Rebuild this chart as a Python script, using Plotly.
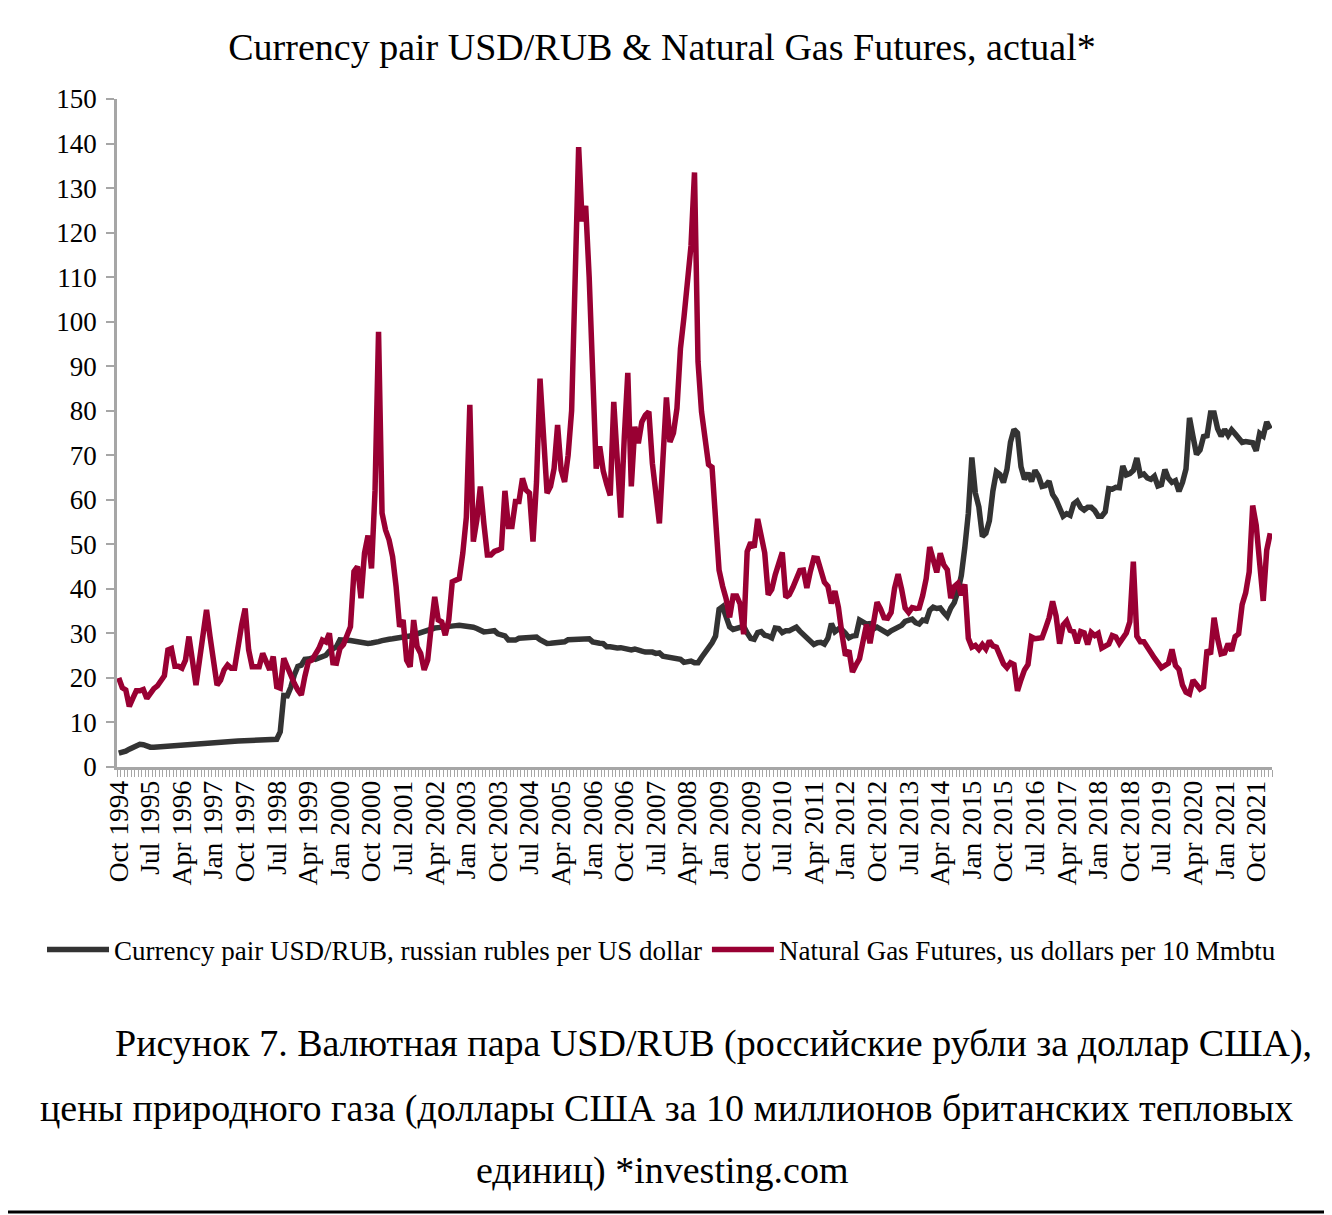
import pandas as pd
import plotly.graph_objects as go

# Currency pair USD/RUB, russian rubles per US dollar (monthly, Oct 1994 - Feb 2022)
usd_rub = [
    3.1, 3.25, 3.55,
    4.0, 4.4, 4.9, 5.1, 5.0, 4.55, 4.45, 4.43, 4.5, 4.5, 4.58, 4.64,
    4.73, 4.8, 4.85, 4.93, 5.03, 5.11, 5.2, 5.3, 5.4, 5.48, 5.52, 5.56,
    5.63, 5.67, 5.73, 5.76, 5.78, 5.78, 5.8, 5.84, 5.86, 5.89, 5.93, 5.96,
    6.03, 6.07, 6.11, 6.13, 6.16, 6.2, 6.24, 7.9, 16.06, 16.0, 17.9, 20.65,
    22.6, 22.86, 24.18, 24.23, 24.44, 24.19, 24.5, 24.75, 25.08, 26.05, 26.42, 27.0,
    28.55, 28.66, 28.46, 28.4, 28.25, 28.07, 27.8, 27.75, 27.75, 27.83, 27.86, 28.16,
    28.38, 28.67, 28.7, 28.8, 29.0, 29.07, 29.2, 29.3, 29.4, 29.7, 29.9, 30.14,
    30.6, 30.8, 31.1, 31.2, 31.3, 31.45, 31.5, 31.6, 31.65, 31.75, 31.85, 31.78,
    31.8, 31.6, 31.4, 31.1, 30.8, 30.35, 30.4, 30.5, 30.6, 29.9, 29.7, 29.45,
    28.5, 28.5, 28.5, 28.9, 29.0, 29.0, 29.1, 29.2, 29.2, 28.6, 28.0, 27.75,
    27.8, 27.8, 27.8, 27.8, 28.1, 28.6, 28.6, 28.5, 28.5, 28.7, 28.8, 28.8,
    28.1, 28.1, 27.8, 27.7, 27.0, 27.0, 26.8, 26.75, 26.8, 26.7, 26.3, 26.3,
    26.5, 26.1, 26.0, 25.8, 25.9, 25.8, 25.5, 25.6, 24.9, 24.8, 24.4, 24.55,
    24.5, 24.2, 23.5, 23.7, 23.8, 23.4, 23.4, 24.6, 25.6, 26.9, 27.9, 29.4,
    35.4, 36.0, 33.6, 31.5, 30.9, 31.2, 31.4, 31.6, 30.1, 28.9, 28.7, 30.2,
    30.4, 29.6, 29.4, 29.0, 31.2, 31.1, 30.2, 30.6, 30.6, 30.9, 31.4, 30.5,
    29.7, 28.8, 28.4, 27.5, 27.9, 28.0, 27.6, 28.9, 32.2, 30.4, 31.0, 30.8,
    30.0, 29.0, 29.4, 29.5, 33.0, 32.6, 32.1, 32.2, 31.0, 31.4, 31.0, 30.5,
    30.0, 30.6, 31.1, 31.3, 31.8, 32.7, 33.0, 33.2, 32.4, 32.1, 33.0, 32.8,
    35.2, 35.9, 35.6, 35.7, 34.7, 33.8, 35.7, 36.9, 39.4, 43.0, 49.3, 57.0,
    69.5, 61.5, 58.4, 51.8, 52.5, 55.3, 62.0, 66.3, 65.7, 63.9, 66.8, 72.9,
    75.8, 75.0, 67.4, 64.6, 66.0, 64.1, 66.6, 65.3, 63.0, 63.2, 64.2, 61.2,
    60.0, 58.4, 56.3, 56.9, 56.5, 59.1, 59.7, 58.3, 57.7, 58.3, 58.3, 57.6,
    56.3, 56.3, 57.3, 62.5, 62.4, 62.8, 62.7, 67.6, 65.6, 65.9, 66.6, 69.4,
    65.5, 65.8, 64.9, 64.6, 65.3, 63.1, 63.4, 66.8, 64.8, 63.9, 64.3, 61.9,
    63.9, 66.9, 78.4, 74.2, 70.2, 71.2, 74.2, 74.4, 79.5, 79.5, 76.0, 74.3,
    75.8, 74.5, 75.7, 74.8, 73.6, 72.9, 73.1, 73.0, 72.8, 71.0, 74.9, 74.3,
    77.5, 75.9,
]

# Natural Gas Futures, us dollars per 10 Mmbtu (monthly, Oct 1994 - Feb 2022)
nat_gas = [
    20.0, 17.8, 17.3,
    13.6, 15.4, 17.1, 17.1, 17.4, 15.4, 16.6, 17.6, 18.2, 19.3, 20.5, 26.3,
    26.6, 22.6, 22.6, 22.2, 24.0, 29.3, 23.0, 18.4, 24.0, 30.0, 35.3, 29.3,
    24.0, 18.4, 19.5, 21.8, 22.9, 22.2, 22.2, 27.8, 31.9, 35.6, 26.3, 22.5,
    22.5, 22.5, 25.5, 23.3, 21.8, 24.8, 18.0, 17.7, 24.4, 22.5, 20.3, 18.8,
    17.3, 16.2, 20.3, 23.6, 24.0, 25.1, 26.6, 28.5, 28.1, 30.0, 23.4, 23.3,
    26.6, 27.5, 29.5, 31.5, 43.9, 45.0, 37.9, 48.0, 52.0, 44.6, 62.0, 97.7,
    57.0, 53.2, 51.0, 47.2, 40.5, 31.5, 33.0, 24.0, 22.5, 33.0, 27.0, 25.5,
    21.8, 24.0, 31.5, 38.2, 33.0, 32.6, 29.6, 33.0, 41.6, 42.0, 42.3, 48.0,
    56.0, 81.3, 50.6, 55.5, 63.0, 54.7, 47.6, 47.6, 48.4, 48.7, 49.1, 62.0,
    54.0, 54.0, 59.6, 59.6, 64.8, 62.2, 61.5, 50.6, 64.0, 87.2, 74.0, 61.5,
    63.0, 67.0, 76.8, 66.7, 64.0, 70.0, 80.0, 110.0, 139.2, 122.5, 126.0, 110.0,
    85.0, 67.0, 72.0, 66.5, 63.5, 61.0, 82.0, 66.0, 56.0, 74.0, 88.5, 63.0,
    76.4, 72.7, 77.5, 79.0, 79.8, 68.2, 61.0, 54.7, 69.0, 83.0, 73.0, 75.0,
    80.5, 94.0, 101.0, 108.5, 117.0, 133.5, 91.0, 79.8, 74.4, 67.9, 67.3, 56.2,
    44.2, 40.6, 37.8, 33.6, 38.4, 38.4, 36.6, 29.8, 48.4, 50.4, 49.3, 55.7,
    51.3, 48.1, 38.7, 39.9, 43.2, 46.2, 48.2, 38.1, 38.7, 40.3, 42.3, 44.1,
    44.2, 40.2, 43.9, 46.9, 46.8, 43.7, 41.5, 40.6, 36.7, 39.5, 35.8, 29.9,
    25.0, 26.2, 21.3, 22.9, 24.3, 28.2, 32.0, 27.8, 33.2, 37.0, 35.5, 33.5,
    33.4, 34.7, 40.2, 43.3, 39.9, 35.7, 34.7, 35.8, 35.6, 35.7, 38.5, 42.3,
    49.4, 46.1, 43.7, 48.0, 45.4, 44.3, 37.9, 40.5, 41.2, 38.6, 41.0, 28.9,
    26.9, 27.3, 26.4, 27.5, 26.5, 28.3, 27.2, 26.9, 25.2, 23.2, 22.3, 23.4,
    23.0, 17.1, 19.6, 21.8, 23.0, 29.2, 28.8, 28.9, 29.0, 31.2, 33.5, 37.2,
    33.9, 27.7, 31.9, 32.8, 30.7, 30.4, 27.8, 30.4, 30.1, 27.5, 30.2, 29.5,
    30.0, 26.7, 27.3, 27.6, 29.5, 29.2, 27.8, 29.0, 30.1, 32.6, 46.1, 29.4,
    28.1, 28.1, 26.6, 25.7, 24.5, 23.1, 22.3, 22.8, 23.3, 26.4, 22.8, 21.9,
    18.4, 16.8, 16.4, 19.5, 18.5, 17.5, 18.0, 26.3, 25.3, 33.5, 28.8, 25.4,
    25.6, 27.7, 26.1, 29.3, 29.9, 36.5, 39.1, 43.8, 58.7, 54.3, 45.7, 37.3,
    48.7, 52.5,
]

tick_labels = [
    "Oct 1994", "Jul 1995", "Apr 1996", "Jan 1997", "Oct 1997", "Jul 1998",
    "Apr 1999", "Jan 2000", "Oct 2000", "Jul 2001", "Apr 2002", "Jan 2003",
    "Oct 2003", "Jul 2004", "Apr 2005", "Jan 2006", "Oct 2006", "Jul 2007",
    "Apr 2008", "Jan 2009", "Oct 2009", "Jul 2010", "Apr 2011", "Jan 2012",
    "Oct 2012", "Jul 2013", "Apr 2014", "Jan 2015", "Oct 2015", "Jul 2016",
    "Apr 2017", "Jan 2018", "Oct 2018", "Jul 2019", "Apr 2020", "Jan 2021",
    "Oct 2021",
]

months = pd.period_range("1994-10", periods=len(usd_rub), freq="M").strftime("%b %Y").tolist()
ticktext = [m if m in tick_labels else "" for m in months]

SERIF = "Liberation Serif, Times New Roman, serif"
AXIS_GREY = "#a6a6a6"

fig = go.Figure()
fig.add_trace(go.Scatter(
    x=months, y=usd_rub, mode="lines",
    name="Currency pair USD/RUB, russian rubles per US dollar",
    line=dict(color="#333333", width=5.5),
))
fig.add_trace(go.Scatter(
    x=months, y=nat_gas, mode="lines",
    name="Natural Gas Futures, us dollars per 10 Mmbtu",
    line=dict(color="#990033", width=5.5),
))

# The page body adds an 8px offset; figure sized to fit the window.
OFF = 8
W, H = 1332 - OFF, 1215 - OFF
L, R, T, B = 117 - OFF, 60, 99 - OFF, 448
pw, ph = W - L - R, H - T - B

def px(xpage):
    return (xpage - OFF - L) / pw

def py(ypage):
    return (H - B - (ypage - OFF)) / ph

fig.update_layout(
    width=W, height=H,
    margin=dict(l=L, r=R, t=T, b=B, autoexpand=False),
    paper_bgcolor="white", plot_bgcolor="white",
    font=dict(family=SERIF, color="black", size=27),
    title=dict(
        text="Currency pair USD/RUB & Natural Gas Futures, actual*",
        x=(662 - OFF) / W, xanchor="center", y=1 - (47 - OFF) / H, yanchor="middle",
        font=dict(family=SERIF, size=38, color="black"),
    ),
    showlegend=True,
    legend=dict(
        orientation="h", x=px(42), xanchor="left", y=py(950), yanchor="middle",
        font=dict(family=SERIF, size=27, color="black"),
        bgcolor="rgba(0,0,0,0)", itemwidth=62, tracegroupgap=0,
    ),
    xaxis=dict(
        type="category", categoryorder="array", categoryarray=months,
        range=[-0.5, len(months) - 0.5],
        tickmode="array", tickvals=months, ticktext=ticktext,
        tickangle=-90, tickson="boundaries",
        ticks="outside", ticklen=7, tickwidth=1.2, tickcolor=AXIS_GREY,
        showline=True, linecolor=AXIS_GREY, linewidth=2.5,
        showgrid=False, zeroline=False,
        tickfont=dict(family=SERIF, size=27.5, color="black"),
    ),
    yaxis=dict(
        range=[0, 150], tickmode="linear", tick0=0, dtick=10,
        ticks="outside", ticklen=8, tickwidth=2, tickcolor=AXIS_GREY,
        showline=True, linecolor=AXIS_GREY, linewidth=2.5,
        showgrid=False, zeroline=False, ticklabelstandoff=4,
        tickfont=dict(family=SERIF, size=27, color="black"),
    ),
)

caption_font = dict(family=SERIF, size=38, color="black")
fig.add_annotation(
    text="Рисунок 7. Валютная пара USD/RUB (российские рубли за доллар США),",
    xref="paper", yref="paper", x=px(113), y=py(1043), xanchor="left", yanchor="middle",
    showarrow=False, font=caption_font,
)
fig.add_annotation(
    text="цены природного газа (доллары США за 10 миллионов британских тепловых",
    xref="paper", yref="paper", x=px(38), y=py(1108), xanchor="left", yanchor="middle",
    showarrow=False, font=caption_font,
)
fig.add_annotation(
    text="единиц) *investing.com",
    xref="paper", yref="paper", x=px(662), y=py(1170), xanchor="center", yanchor="middle",
    showarrow=False, font=caption_font,
)
fig.add_shape(
    type="line", xref="paper", yref="paper",
    x0=px(0), x1=px(1332), y0=py(1212), y1=py(1212),
    line=dict(color="black", width=3),
)

fig.write_html("out.html")
